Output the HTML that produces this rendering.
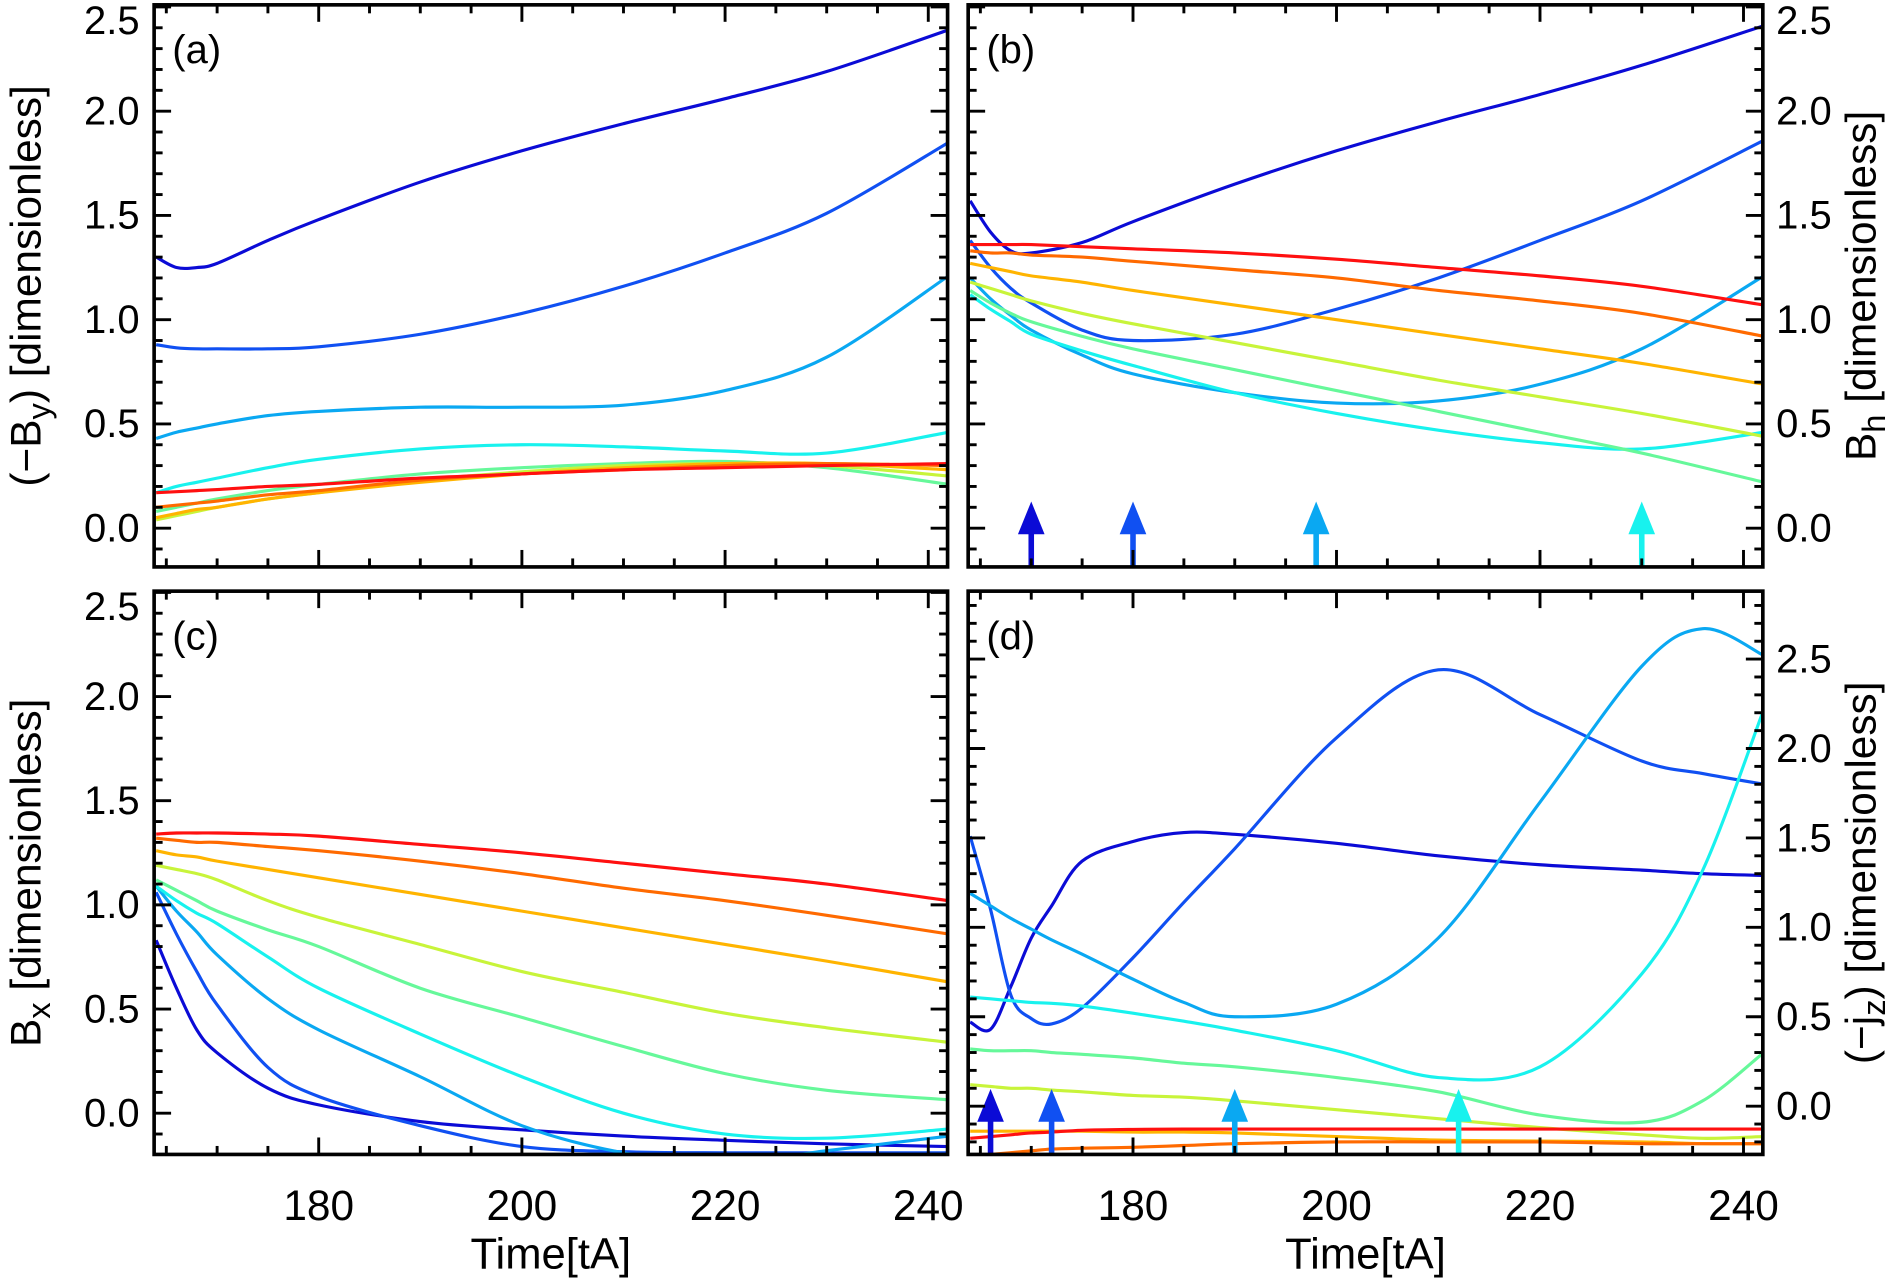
<!DOCTYPE html>
<html><head><meta charset="utf-8"><title>Magnetic field time series</title>
<style>
html,body{margin:0;padding:0;background:#fff;}
svg{display:block;font-family:"Liberation Sans",Arial,sans-serif;}
</style></head>
<body>
<svg id="chart" width="1900" height="1278" viewBox="0 0 1568 1055" xmlns="http://www.w3.org/2000/svg"></svg>
<script>
// ---- data ----
const colors = ["#0b0bd6","#1050f2","#0aa8f2","#18f2ee","#66f89a","#c8f43a","#ffb400","#ff6a00","#ff1010"];
const seriesNames = ["s1","s2","s3","s4","s5","s6","s7","s8","s9"];
const timeABC = [164,166,168,170,175,180,190,200,210,220,230,242];
const timeD = [164,166,168,170,172,175,180,185,190,200,210,220,230,236,242];
const xTicks = [180,200,220,240];
const yTicks = [0.0,0.5,1.0,1.5,2.0,2.5];
const yTickLabels = ["0.0","0.5","1.0","1.5","2.0","2.5"];

const panelA = [
 [1.30,1.25,1.25,1.27,1.38,1.48,1.66,1.81,1.94,2.06,2.19,2.39],
 [0.88,0.865,0.86,0.86,0.86,0.87,0.93,1.03,1.16,1.32,1.51,1.85],
 [0.43,0.46,0.48,0.50,0.54,0.56,0.58,0.58,0.59,0.66,0.82,1.21],
 [0.17,0.20,0.22,0.24,0.29,0.33,0.38,0.40,0.39,0.37,0.36,0.46],
 [0.08,0.10,0.12,0.14,0.18,0.21,0.26,0.29,0.31,0.32,0.29,0.21],
 [0.04,0.06,0.08,0.10,0.14,0.17,0.23,0.27,0.30,0.31,0.30,0.25],
 [0.05,0.07,0.09,0.10,0.14,0.17,0.22,0.26,0.29,0.31,0.31,0.28],
 [0.10,0.11,0.12,0.13,0.16,0.18,0.23,0.26,0.28,0.30,0.31,0.30],
 [0.17,0.175,0.18,0.185,0.20,0.21,0.24,0.26,0.28,0.29,0.30,0.31]
];
const panelB = [
 [1.57,1.42,1.33,1.32,1.37,1.47,1.65,1.81,1.95,2.08,2.22,2.41],
 [1.38,1.25,1.15,1.08,0.95,0.90,0.93,1.05,1.20,1.38,1.57,1.86],
 [1.20,1.10,1.02,0.95,0.83,0.74,0.65,0.60,0.61,0.69,0.86,1.21],
 [1.12,1.05,0.99,0.93,0.85,0.78,0.65,0.55,0.47,0.41,0.38,0.46],
 [1.14,1.08,1.03,0.99,0.92,0.86,0.76,0.66,0.56,0.46,0.36,0.22],
 [1.18,1.15,1.12,1.09,1.03,0.98,0.89,0.80,0.71,0.63,0.55,0.44],
 [1.27,1.25,1.23,1.21,1.18,1.14,1.07,1.00,0.93,0.86,0.79,0.69],
 [1.33,1.32,1.32,1.31,1.30,1.28,1.24,1.20,1.14,1.09,1.03,0.92],
 [1.36,1.36,1.36,1.36,1.35,1.34,1.32,1.29,1.25,1.21,1.16,1.07]
];
const panelC = [
 [0.83,0.60,0.40,0.29,0.12,0.04,-0.04,-0.08,-0.11,-0.13,-0.147,-0.16],
 [1.06,0.86,0.68,0.52,0.22,0.08,-0.06,-0.16,-0.185,-0.19,-0.19,-0.19],
 [1.09,0.97,0.87,0.76,0.55,0.40,0.175,-0.06,-0.19,-0.24,-0.18,-0.11],
 [1.09,1.02,0.96,0.91,0.75,0.60,0.38,0.175,0.0,-0.10,-0.12,-0.076],
 [1.12,1.07,1.02,0.97,0.88,0.80,0.60,0.46,0.32,0.19,0.11,0.064],
 [1.19,1.17,1.15,1.12,1.02,0.94,0.81,0.68,0.58,0.48,0.41,0.34],
 [1.26,1.24,1.23,1.21,1.17,1.13,1.05,0.97,0.89,0.81,0.73,0.63],
 [1.32,1.31,1.30,1.30,1.28,1.26,1.21,1.15,1.08,1.02,0.95,0.86],
 [1.34,1.345,1.345,1.345,1.34,1.33,1.29,1.25,1.20,1.15,1.10,1.02]
];
const panelD = [
 [0.47,0.43,0.67,0.94,1.12,1.37,1.48,1.53,1.52,1.47,1.40,1.35,1.32,1.30,1.29],
 [1.51,1.10,0.62,0.49,0.46,0.55,0.83,1.14,1.44,2.06,2.44,2.19,1.93,1.86,1.80],
 [1.19,1.12,1.05,0.99,0.93,0.85,0.71,0.58,0.50,0.57,0.94,1.70,2.46,2.67,2.52],
 [0.61,0.60,0.59,0.58,0.575,0.56,0.52,0.475,0.425,0.31,0.16,0.22,0.74,1.32,2.22],
 [0.32,0.31,0.31,0.31,0.30,0.29,0.27,0.24,0.22,0.16,0.08,-0.05,-0.09,0.03,0.30],
 [0.12,0.11,0.10,0.10,0.09,0.08,0.06,0.05,0.03,-0.02,-0.07,-0.12,-0.16,-0.18,-0.17],
 [-0.14,-0.14,-0.14,-0.14,-0.14,-0.14,-0.145,-0.145,-0.15,-0.17,-0.19,-0.195,-0.20,-0.21,-0.21],
 [-0.28,-0.27,-0.26,-0.25,-0.24,-0.235,-0.23,-0.22,-0.21,-0.20,-0.20,-0.20,-0.21,-0.21,-0.21],
 [-0.18,-0.17,-0.16,-0.15,-0.145,-0.135,-0.13,-0.128,-0.128,-0.128,-0.128,-0.128,-0.128,-0.128,-0.128]
];
const arrowTimesB = [170,180,198,230];
const arrowTimesD = [166,172,190,212];
const arrowColorIdx = [0,1,2,3];

// ---- layout ----
const NS = "http://www.w3.org/2000/svg";
const svg = document.getElementById("chart");
const X0 = 163.8, X1 = 241.9;
const panels = [
  {id:"a", x:127, y:4,   w:655, h:464, ymin:-0.186, ymax:2.51, times:timeABC, data:panelA, label:"(a)", labelsSide:"left",  title:["(−B","y",") [dimensionless]"], arrows:null},
  {id:"b", x:799, y:4,   w:656, h:464, ymin:-0.186, ymax:2.51, times:timeABC, data:panelB, label:"(b)", labelsSide:"right", title:["B","h"," [dimensionless]"], arrows:arrowTimesB},
  {id:"c", x:127, y:488, w:655, h:465, ymin:-0.198, ymax:2.506,times:timeABC, data:panelC, label:"(c)", labelsSide:"left",  title:["B","x"," [dimensionless]"], arrows:null},
  {id:"d", x:799, y:488, w:656, h:465, ymin:-0.27,  ymax:2.88, times:timeD,   data:panelD, label:"(d)", labelsSide:"right", title:["(−j","z",") [dimensionless]"], arrows:arrowTimesD}
];

function mk(tag, attrs, parent){
  const e = document.createElementNS(NS, tag);
  for (const k in attrs) e.setAttribute(k, attrs[k]);
  (parent||svg).appendChild(e);
  return e;
}
function smoothPath(pts){
  let d = "M"+pts[0][0].toFixed(2)+","+pts[0][1].toFixed(2);
  for (let i=0;i<pts.length-1;i++){
    const p0=pts[i-1]||pts[i], p1=pts[i], p2=pts[i+1], p3=pts[i+2]||pts[i+1];
    const c1x=p1[0]+(p2[0]-p0[0])/6, c1y=p1[1]+(p2[1]-p0[1])/6;
    const c2x=p2[0]-(p3[0]-p1[0])/6, c2y=p2[1]-(p3[1]-p1[1])/6;
    d += " C"+c1x.toFixed(2)+","+c1y.toFixed(2)+" "+c2x.toFixed(2)+","+c2y.toFixed(2)+" "+p2[0].toFixed(2)+","+p2[1].toFixed(2);
  }
  return d;
}

panels.forEach(function(P){
  const g = mk("g", {});
  
  
  const sx = t => P.x + (t - X0) / (X1 - X0) * P.w;
  const sy = v => P.y + P.h - (v - P.ymin) / (P.ymax - P.ymin) * P.h;

  const clip = mk("clipPath", {id:"clip-"+P.id}, g);
  mk("rect", {x:P.x, y:P.y, width:P.w, height:P.h}, clip);

  const sg = mk("g", {"clip-path":"url(#clip-"+P.id+")"}, g);
  P.data.forEach(function(vals, i){
    const pts = P.times.map((t,j)=>[sx(t), sy(vals[j])]);
    const path = mk("path", {d:smoothPath(pts), fill:"none", stroke:colors[i], "stroke-width":2.6, "stroke-linejoin":"round"}, sg);
    
    
  });

  if (P.arrows){
    P.arrows.forEach(function(t, k){
      const ax = sx(t), by = P.y + P.h, c = colors[arrowColorIdx[k]];
      const ag = mk("g", {}, g);
      
      
      mk("rect", {x:ax-2.3, y:by-30, width:4.6, height:30, fill:c}, ag);
      mk("polygon", {points:(ax-11)+","+(by-27)+" "+(ax+11)+","+(by-27)+" "+ax+","+(by-54), fill:c}, ag);
    });
  }

  const tk = mk("g", {stroke:"#000", "stroke-width":2.4}, g);
  
  
  for (let t=165; t<=X1; t+=5){
    const x = sx(t), major = (t % 20 === 0);
    const L = major ? 14 : 7;
    mk("line", {x1:x, y1:P.y+P.h, x2:x, y2:P.y+P.h-L}, tk);
    mk("line", {x1:x, y1:P.y, x2:x, y2:P.y+L}, tk);
  }
  for (let k=Math.ceil(P.ymin*10); k<=Math.floor(P.ymax*10+0.001); k++){
    const y = sy(k/10), major = (k % 5 === 0);
    const L = major ? 14 : 7;
    mk("line", {x1:P.x, y1:y, x2:P.x+L, y2:y}, tk);
    mk("line", {x1:P.x+P.w, y1:y, x2:P.x+P.w-L, y2:y}, tk);
  }

  const fr = mk("rect", {x:P.x, y:P.y, width:P.w, height:P.h, fill:"none", stroke:"#000", "stroke-width":3}, g);
  
  

  yTicks.forEach(function(v, k){
    const yc = Math.max(sy(v), P.y + 13);
    const left = P.labelsSide === "left";
    const tx = mk("text", {x: left ? P.x - 12 : P.x + P.w + 11, y:yc + 11, "font-size":33, "text-anchor": left ? "end" : "start", fill:"#000"}, g);
    
    
    tx.textContent = yTickLabels[k];
  });

  if (P.id === "c" || P.id === "d"){
    xTicks.forEach(function(t){
      const tx = mk("text", {x:sx(t), y:1007, "font-size":35, "text-anchor":"middle", fill:"#000"}, g);
      
      
      tx.textContent = String(t);
    });
    const xt = mk("text", {x:P.x + P.w/2, y:1047, "font-size":36, "text-anchor":"middle", fill:"#000"}, g);
    
    
    xt.textContent = "Time[tA]";
  }

  const pl = mk("text", {x:P.x + 15, y:P.y + 48, "font-size":33, fill:"#000"}, g);
  
  
  pl.textContent = P.label;

  const cx = P.labelsSide === "left" ? 33 : 1548;
  const cy = P.y + P.h/2;
  const yt = mk("text", {x:0, y:0, "font-size":35, "text-anchor":"middle", fill:"#000", transform:"translate("+cx+","+cy+") rotate(-90)"}, g);
  
  
  const s1 = mk("tspan", {}, yt); s1.textContent = P.title[0];
  const s2 = mk("tspan", {dy:8, "font-size":27}, yt); s2.textContent = P.title[1];
  const s3 = mk("tspan", {dy:-8}, yt); s3.textContent = P.title[2];
});
</script>
</body></html>
